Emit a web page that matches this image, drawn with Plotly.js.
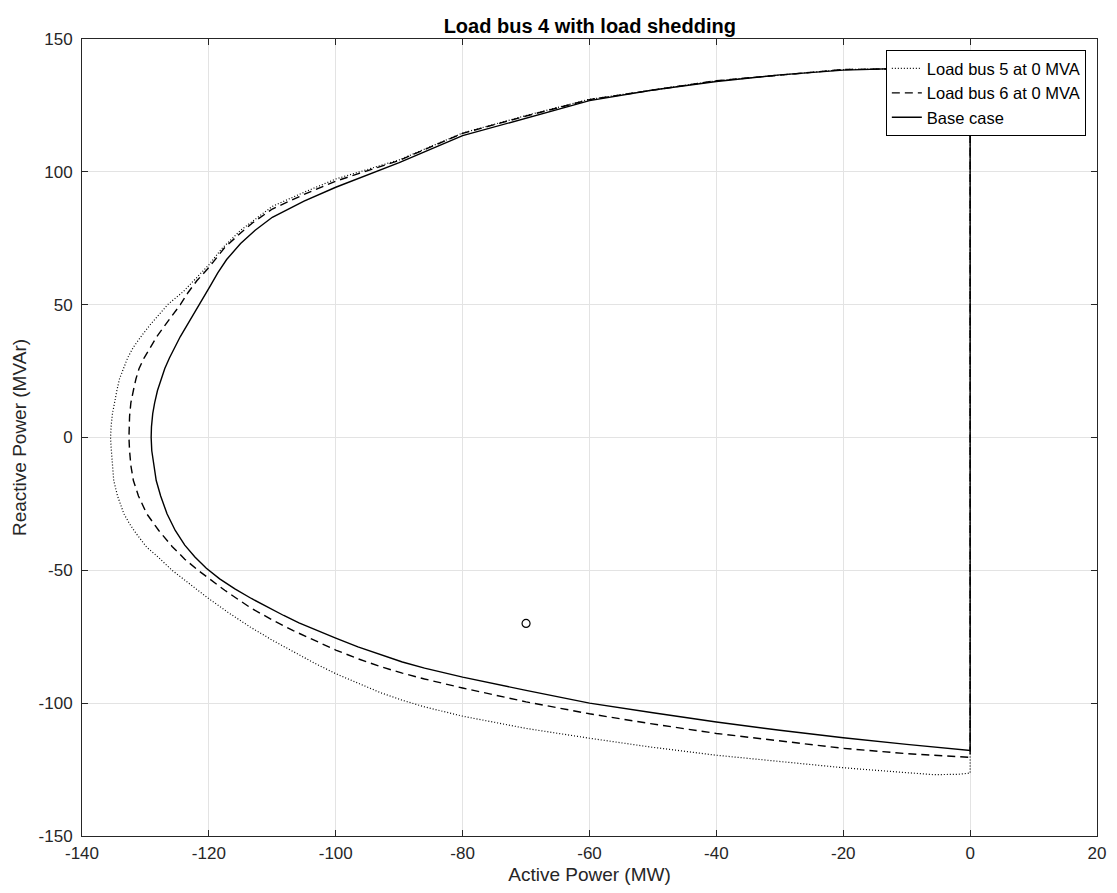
<!DOCTYPE html>
<html>
<head>
<meta charset="utf-8">
<script src="https://cdn.plot.ly/plotly-3.0.1.min.js"></script>
<style>html,body{margin:0;padding:0;background:#fff;}#chart{width:1117px;height:893px;}</style>
</head>
<body>
<div id="chart"></div>
<script>
// Base case (solid)
const baseX = [0, -10, -20, -30, -40, -50, -60, -70, -80, -90, -100, -105, -110, -112.7, -115, -117.2, -118.6, -119.8, -121, -122.3, -123.5, -124.5, -125.4, -126.2, -126.95, -127.55, -128.1, -128.55, -128.85, -129.05, -129.1, -129, -128.7, -128.3, -127.6, -126.6, -125.3, -123.8, -122.2, -120.4, -118.3, -115.9, -113.3, -110.7, -108.2, -105.8, -103, -100, -96.5, -93, -89.5, -86, -80, -70, -60, -50, -40, -30, -20, -10, 0, 0];
const baseY = [139.2, 139, 138.3, 136.5, 134, 130.8, 126.8, 120.3, 113.6, 103.5, 94.2, 89, 82.9, 78, 73, 67, 62, 57, 52, 47, 42, 38, 34, 30, 26, 22, 17.7, 13, 9, 4, 0, -5, -10.5, -16.2, -22, -28.7, -35, -40.5, -45, -49.2, -53.2, -57, -60.6, -64, -67, -69.8, -72.7, -75.5, -78.8, -81.8, -84.5, -86.8, -90.2, -95.2, -100, -103.6, -107.1, -110.2, -113, -115.5, -117.8, 139.2];

// Load bus 6 at 0 MVA (dashed)
const bus6X = [0, -20, -40, -60, -70, -80, -90, -100, -105, -110, -113, -115, -117.5, -120, -121.9, -123.3, -124.5, -125.8, -127, -128.2, -129.2, -130.2, -131, -131.5, -131.9, -132.3, -132.5, -132.6, -132.5, -132.3, -131.9, -131.1, -129.8, -127.9, -125.8, -123.8, -121.7, -117.5, -113.5, -110, -106.7, -103.3, -100, -96.5, -93, -89.5, -86, -80, -70, -60, -50.4, -40, -30, -20, -10, 0, 0];
const bus6Y = [139.2, 138.5, 134.3, 127.2, 121, 114.5, 104.3, 96.5, 91.5, 86, 81, 77, 71.5, 64, 59, 54.5, 50, 46, 42, 38, 34, 30, 26, 22, 17.7, 13, 8, 0, -5, -10.5, -16.2, -22, -28.7, -35, -41, -45.8, -50, -57.5, -64, -68.7, -72.7, -76.5, -80, -83.3, -86.2, -88.7, -90.9, -94.3, -99.5, -104, -107.7, -111.4, -114.3, -117, -119, -120.4, 139.2];

// Load bus 5 at 0 MVA (dotted)
const bus5X = [0, -20, -40, -60, -70, -80, -90, -100, -105, -110, -115, -118, -120, -122, -124, -126.5, -128, -129.4, -130.7, -131.9, -132.8, -133.5, -134.1, -134.5, -134.9, -135.2, -135.4, -135.5, -135.4, -135.3, -135, -134.4, -133.4, -132.5, -131.5, -129.8, -128, -125.8, -123, -120, -117, -113.5, -110, -106.7, -103.3, -100, -96.5, -93, -89.5, -86, -80, -70, -60, -50.4, -40, -30, -20, -12, -5.8, -2, 0, 0];
const bus5Y = [139.2, 138.5, 134.3, 127.3, 121.2, 114.6, 104.5, 97.3, 92.3, 87, 78, 71, 65, 60, 55, 50, 46, 42, 38, 34, 30, 26, 22, 17.7, 13, 9, 4.5, 0, -4, -8, -16.2, -22, -28.7, -32.5, -36, -41.3, -45, -50, -55.2, -60.7, -65.8, -71.3, -76.3, -80.7, -85, -88.9, -92.6, -96, -98.9, -101.4, -104.9, -109.5, -113.2, -116.5, -119.6, -122, -124.3, -125.8, -126.9, -126.8, -126.3, 139.2];

// Operating point marker
const opX = [-70];
const opY = [-70];

const xTicks = [-140, -120, -100, -80, -60, -40, -20, 0, 20];
const yTicks = [-150, -100, -50, 0, 50, 100, 150];

const traces = [
  {x: bus5X, y: bus5Y, mode: 'lines', name: 'Load bus 5 at 0 MVA',
   line: {color: '#000000', width: 1.2, dash: '1px,2px'}},
  {x: bus6X, y: bus6Y, mode: 'lines', name: 'Load bus 6 at 0 MVA',
   line: {color: '#000000', width: 1.4, dash: '8px,5px'}},
  {x: baseX, y: baseY, mode: 'lines', name: 'Base case',
   line: {color: '#000000', width: 1.4}},
  {x: opX, y: opY, mode: 'markers', showlegend: false,
   marker: {symbol: 'circle-open', size: 8, color: '#000000', line: {width: 1.2, color: '#000000'}}}
];

const FONT = 'Liberation Sans, Arial, sans-serif';
const axisCommon = {
  showline: true, mirror: 'ticks', linecolor: '#262626', linewidth: 1,
  ticks: 'inside', ticklen: 6, tickcolor: '#262626', tickwidth: 1,
  showgrid: true, gridcolor: '#e3e3e3', gridwidth: 1, zeroline: false,
  tickfont: {family: FONT, size: 17, color: '#262626'}
};

const layout = {
  width: 1117, height: 893,
  margin: {l: 82, r: 20, t: 39, b: 57},
  paper_bgcolor: '#ffffff', plot_bgcolor: '#ffffff',
  title: {text: '<b>Load bus 4 with load shedding</b>', x: 0.528, xanchor: 'center', y: 0.971, yanchor: 'middle',
          font: {family: FONT, size: 20, color: '#000000'}},
  xaxis: Object.assign({}, axisCommon, {
    range: [-140, 20], tickvals: xTicks, ticktext: xTicks.map(String), ticklabelstandoff: 2,
    title: {text: 'Active Power (MW)', standoff: 5, font: {family: FONT, size: 19, color: '#262626'}}
  }),
  yaxis: Object.assign({}, axisCommon, {
    range: [-150, 150], tickvals: yTicks, ticktext: yTicks.map(String), ticklabelstandoff: 5,
    title: {text: 'Reactive Power (MVAr)', standoff: 6, font: {family: FONT, size: 19, color: '#262626'}}
  }),
  showlegend: true,
  legend: {
    x: 0.989, y: 0.986, xanchor: 'right', yanchor: 'top',
    bgcolor: '#ffffff', bordercolor: '#000000', borderwidth: 1,
    font: {family: FONT, size: 16.5, color: '#000000'},
    tracegroupgap: 0
  }
};

Plotly.newPlot('chart', traces, layout, {displayModeBar: false, staticPlot: true});
</script>
</body>
</html>
